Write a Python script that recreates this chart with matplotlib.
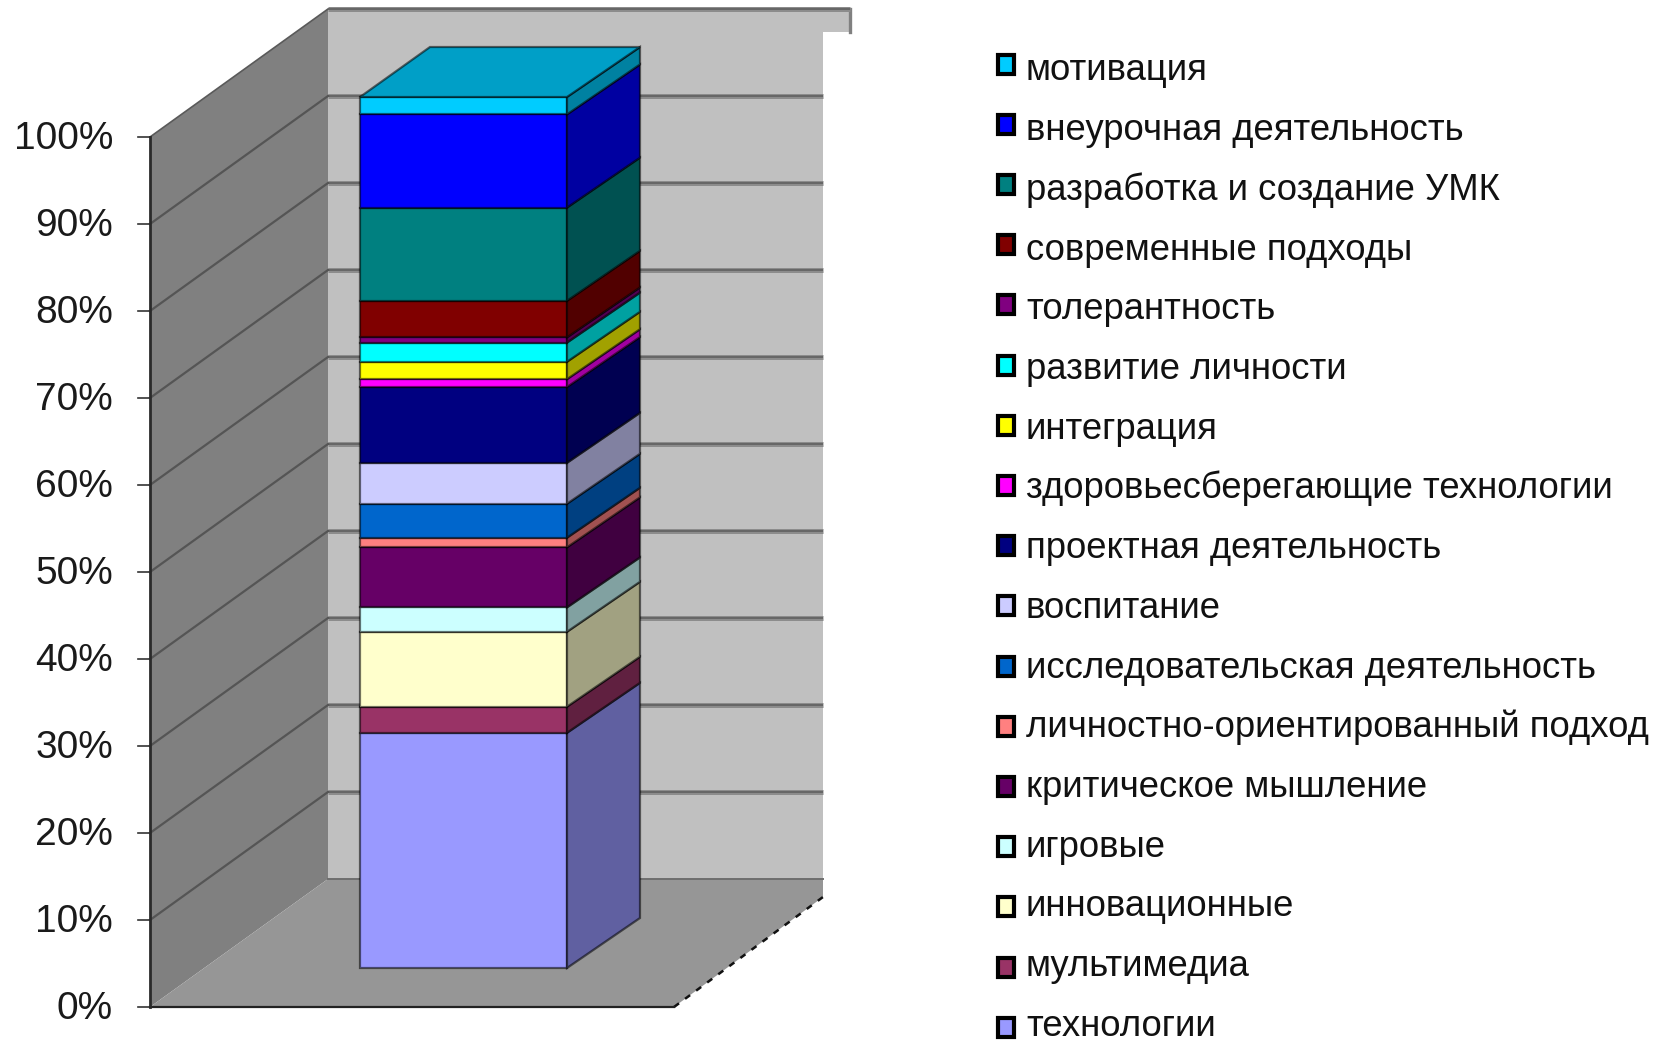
"""Stacked 3D-look percent column with Excel style walls, drawn on a pixel canvas."""

import matplotlib
matplotlib.use("Agg")
import matplotlib.pyplot as plt
from matplotlib.patches import Polygon, Rectangle

plt.rcParams["font.family"] = ["Liberation Sans", "DejaVu Sans"]

# ---- Data, bottom to top ----
CATEGORIES = [
    "технологии", "мультимедиа", "инновационные", "игровые",
    "критическое мышление", "личностно-ориентированный подход",
    "исследовательская деятельность", "воспитание", "проектная деятельность",
    "здоровьесберегающие технологии", "интеграция", "развитие личности",
    "толерантность", "современные подходы", "разработка и создание УМК",
    "внеурочная деятельность", "мотивация",
]
VALUES = [27.0, 3.0, 8.6, 2.8, 6.9, 1.1, 3.9, 4.7, 8.7, 0.9, 2.0, 2.2, 0.6, 4.2, 10.7, 10.7, 2.0]
COLORS = [
    "#9999FF", "#993366", "#FFFFCC", "#CCFFFF", "#660066", "#FF8080",
    "#0066CC", "#CCCCFF", "#000080", "#FF00FF", "#FFFF00", "#00FFFF",
    "#800080", "#800000", "#008080", "#0000FF", "#00CCFF",
]
TICKS = [0, 10, 20, 30, 40, 50, 60, 70, 80, 90, 100]

# ---- Layout in pixels ----
W, H = 1675, 1043
FRONT_X, FRONT_Y0 = 150, 1007
BACK_X, BACK_Y0 = 328, 879
WALL_H = 870
WALL_R = 823
BAR_L, BAR_R, BAR_Y0, BAR_H = 360, 567, 968, 871
BAR_DX, BAR_DY = 73, 50


def shade(color, f):
    r, g, b = matplotlib.colors.to_rgb(color)
    return (r * f, g * f, b * f)


def level(y0, pct):
    return y0 - WALL_H * pct / 100


fig = plt.figure(figsize=(W / 100, H / 100), dpi=100)
ax = fig.add_axes([0, 0, 1, 1])
ax.set_xlim(0, W)
ax.set_ylim(H, 0)
ax.axis("off")

# ---- Walls and floor ----
top_back = level(BACK_Y0, 100)
ax.add_patch(Polygon([(BACK_X, top_back), (850, top_back), (850, 32), (WALL_R, 32),
                      (WALL_R, BACK_Y0), (BACK_X, BACK_Y0)], fc="#C0C0C0", ec="none", zorder=1))
ax.add_patch(Polygon([(FRONT_X, level(FRONT_Y0, 100)), (BACK_X, top_back), (BACK_X, BACK_Y0),
                      (FRONT_X, FRONT_Y0)], fc="#808080", ec="none", zorder=1))
ax.add_patch(Polygon([(FRONT_X, FRONT_Y0), (BACK_X, BACK_Y0), (WALL_R, BACK_Y0), (WALL_R, 897),
                      (674, FRONT_Y0)], fc="#969696", ec="none", zorder=1))
ax.plot([674, WALL_R], [FRONT_Y0, 897], color="#111111", lw=1.8, ls=(0, (2.5, 3)), zorder=2)
ax.plot([FRONT_X, BACK_X], [level(FRONT_Y0, 100), top_back], color="#5a5a5a", lw=1.2, zorder=2)
ax.plot([FRONT_X, 674], [FRONT_Y0, FRONT_Y0], color="#222222", lw=1.6, zorder=2)
ax.plot([BACK_X, WALL_R], [BACK_Y0, BACK_Y0], color="#6e6e6e", lw=1.4, zorder=2)
ax.plot([850, 850], [top_back, 32], color="#808080", lw=2.4, zorder=2)

# ---- Gridlines and ticks ----
for t in TICKS:
    yb = level(BACK_Y0, t)
    yf = level(FRONT_Y0, t)
    if t > 0:
        xr = 850 if t == 100 else WALL_R
        ax.plot([BACK_X, xr], [yb, yb], color="#8c8c8c", lw=3.6, solid_capstyle="butt", zorder=2)
        ax.plot([BACK_X, xr], [yb, yb], color="#666666", lw=1.4, solid_capstyle="butt", zorder=2)
        if t < 100:
            ax.plot([FRONT_X, BACK_X], [yf, yb], color="#555555", lw=1.6, zorder=2)
    ax.plot([138, FRONT_X], [yf, yf], color="#333333", lw=1.2, zorder=3)
    ax.text(113, yf + 2, f"{t}%", ha="right", va="center", fontsize=28, color="#1a1a1a")
ax.plot([FRONT_X, FRONT_X], [level(FRONT_Y0, 100), FRONT_Y0], color="#2a2a2a", lw=2, zorder=3)

# ---- Stacked column ----
base = 0
for value, color in zip(VALUES, COLORS):
    y0 = BAR_Y0 - BAR_H * base / 100
    y1 = BAR_Y0 - BAR_H * (base + value) / 100
    edge = (0, 0, 0, 0.55)
    ax.add_patch(Rectangle((BAR_L, y1), BAR_R - BAR_L, y0 - y1, fc=color, ec=edge, lw=1.6, zorder=4))
    ax.add_patch(Polygon([(BAR_R, y0), (BAR_R + BAR_DX, y0 - BAR_DY), (BAR_R + BAR_DX, y1 - BAR_DY),
                          (BAR_R, y1)], fc=shade(color, 0.63), ec=edge, lw=1.6, zorder=4))
    base += value
y_top = BAR_Y0 - BAR_H * base / 100
ax.add_patch(Polygon([(BAR_L, y_top), (BAR_L + BAR_DX - 3, y_top - BAR_DY), (BAR_R + BAR_DX, y_top - BAR_DY),
                      (BAR_R, y_top)], fc=shade(COLORS[-1], 0.78), ec=(0, 0, 0, 0.55), lw=1.6, zorder=4))

# ---- Legend, top entry is the top segment ----
for i, (name, color) in enumerate(zip(CATEGORIES[::-1], COLORS[::-1])):
    yc = 64 + 60.2 * i
    ax.add_patch(Rectangle((998, yc - 9.5), 16, 19, fc=color, ec="black", lw=3, zorder=5))
    ax.text(1026, 80.5 + 59.7 * i, name, ha="left", va="baseline", fontsize=26.3, color="#111111")

fig.savefig("out.png", dpi=100)
